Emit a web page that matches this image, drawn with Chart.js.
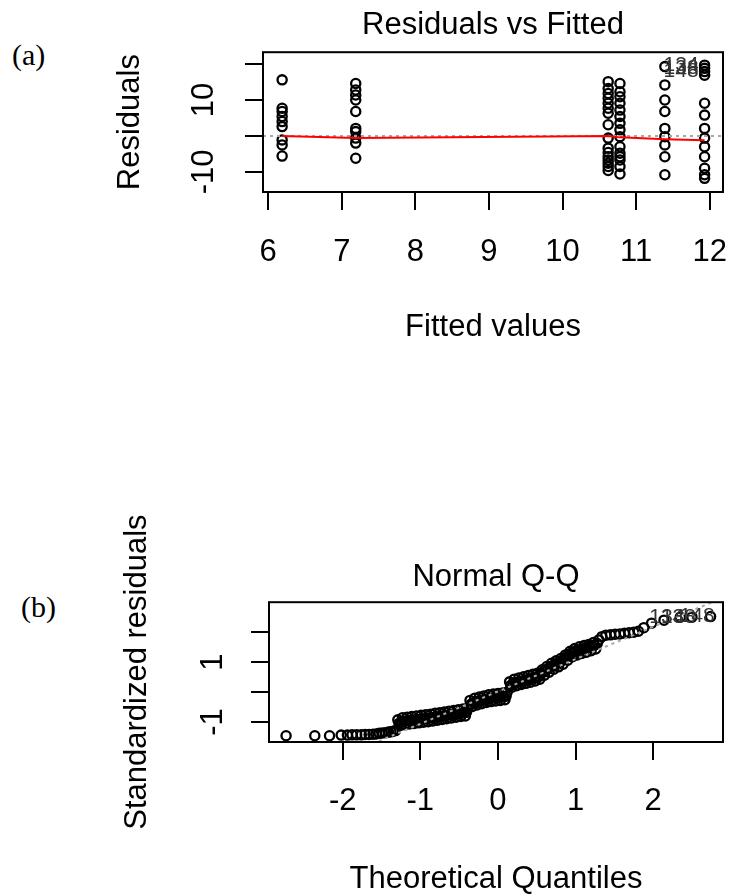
<!DOCTYPE html>
<html>
<head>
<meta charset="utf-8">
<script src="https://cdn.jsdelivr.net/npm/chart.js@4.4.0/dist/chart.umd.min.js"></script>
<style>
  body { margin: 0; background: #fff; width: 731px; height: 895px; position: relative; overflow: hidden; }
  canvas { position: absolute; left: 0; }
  .panel { position: absolute; font-family: "Liberation Serif", serif; font-size: 30px; line-height: 1; color: #000; }
</style>
</head>
<body>
<div class="panel" style="left:12px;top:40px">(a)</div>
<canvas id="resFit" width="731" height="370" style="top:0"></canvas>
<div class="panel" style="left:21px;top:592px">(b)</div>
<canvas id="qq" width="731" height="455" style="top:440px"></canvas>
<script>
// (a) residuals vs fitted, one array of residuals per fitted level
const fittedLevels = [6.19, 7.19, 10.62, 10.78, 11.39, 11.93];
const res619 = [15.6, 7.7, 6.8, 5.4, 4.0, 2.6, -1.1, -2.5, -5.6];
const res719 = [14.6, 12.8, 11.4, 10.0, 6.8, 2.1, 1.2, -0.6, -2.0, -6.2];
const res1062 = [15.1, 13.2, 11.8, 10.5, 9.1, 7.7, 6.3, 3.1, -0.6, -3.4, -4.6, -5.8, -6.7, -7.6, -8.5, -9.6];
const res1078 = [14.6, 12.3, 10.9, 9.1, 7.2, 5.4, 3.5, 1.7, -0.2, -3.0, -4.8, -5.8, -6.7, -8.5, -10.6];
const res1139 = [19.3, 14.2, 10.0, 6.8, 2.1, -0.2, -2.5, -5.8, -10.8];
const res1193 = [19.7, 18.8, 17.9, 16.9, 9.1, 5.8, 2.1, -0.6, -3.0, -5.8, -9.0, -10.8, -11.8];
const smoothX = [6.19, 7.19, 10.62, 10.78, 11.39, 11.93];
const smoothY = [0.0, -0.6, 0.0, -0.4, -0.9, -1.2];
const fitTicks = [6, 7, 8, 9, 10, 11, 12];
const resTicks = [-10, 0, 10, 20];
const resTickLabels = [-10, 10];
const resIds = ['134', '138', '148'];
const resIdX = [11.93, 11.93, 11.93];
const resIdY = [19.7, 18.8, 17.9];

// (b) normal Q-Q
const qqX = [-2.73, -2.36, -2.17, -2.02, -1.94, -1.88, -1.82, -1.76, -1.71, -1.66, -1.61, -1.57, -1.53, -1.49, -1.45, -1.41, -1.38, -1.35, -1.32,
  -1.29, -1.26, -1.23, -1.20, -1.17, -1.14, -1.11, -1.08, -1.05, -1.02, -0.99, -0.96, -0.93, -0.90, -0.87, -0.84, -0.81, -0.78, -0.75, -0.72, -0.69, -0.66, -0.63, -0.60, -0.57, -0.54, -0.51, -0.48, -0.45, -0.42, -0.39,
  -0.36, -0.33, -0.30, -0.27, -0.24, -0.21, -0.18, -0.15, -0.12, -0.09, -0.06, -0.03, 0.00, 0.03, 0.06, 0.09, 0.12,
  0.15, 0.18, 0.21, 0.24, 0.27, 0.30, 0.33, 0.36, 0.39, 0.42, 0.45, 0.48, 0.51, 0.54,
  0.57, 0.60, 0.63, 0.66, 0.69, 0.72, 0.75, 0.78, 0.81, 0.84, 0.87, 0.90, 0.93, 0.96, 0.99, 1.02, 1.05, 1.08, 1.11, 1.14, 1.17, 1.20, 1.23, 1.26, 1.30,
  1.34, 1.39, 1.45, 1.51, 1.57, 1.63, 1.69, 1.75, 1.81, 1.88, 1.98, 2.14, 2.35, 2.50, 2.74];
const qqY = [-1.46, -1.46, -1.46, -1.44, -1.44, -1.43, -1.43, -1.43, -1.42, -1.42, -1.41, -1.40, -1.38, -1.37, -1.36, -1.34, -1.33, -1.31, -1.29,
  -0.93, -1.12, -0.86, -1.09, -0.84, -1.07, -0.82, -1.05, -0.80, -1.03, -0.78, -1.01, -0.76, -0.99, -0.74, -0.97, -0.71, -0.94, -0.69, -0.92, -0.67, -0.89, -0.64, -0.87, -0.62, -0.84, -0.59, -0.82, -0.57, -0.80, -0.54,
  -0.28, -0.48, -0.21, -0.43, -0.17, -0.39, -0.13, -0.35, -0.09, -0.32, -0.07, -0.30, -0.05, -0.28, -0.03, -0.26, 0.00,
  0.34, 0.16, 0.43, 0.21, 0.47, 0.25, 0.51, 0.29, 0.55, 0.33, 0.59, 0.37, 0.63, 0.43,
  0.74, 0.56, 0.85, 0.66, 0.96, 0.76, 1.04, 0.84, 1.12, 0.93, 1.24, 1.06, 1.36, 1.18, 1.45, 1.24, 1.51, 1.29, 1.55, 1.33, 1.59, 1.38, 1.65, 1.44, 1.74,
  1.85, 1.90, 1.91, 1.93, 1.94, 1.96, 1.98, 2.00, 2.03, 2.15, 2.30, 2.40, 2.50, 2.50, 2.52];
// points in the dense middle band, between the ones above
const qqMidX = [-1.275, -1.245, -1.215, -1.185, -1.155, -1.125, -1.095, -1.065, -1.035, -1.005, -0.975, -0.945, -0.915, -0.885, -0.855, -0.825, -0.795, -0.765, -0.735, -0.705, -0.675, -0.645, -0.615, -0.585, -0.555, -0.525, -0.495, -0.465, -0.435, -0.405,
  -0.345, -0.315, -0.285, -0.255, -0.225, -0.195, -0.165, -0.135, -0.105, -0.075, -0.045, -0.015, 0.015, 0.045, 0.075, 0.105,
  0.165, 0.195, 0.225, 0.255, 0.285, 0.315, 0.345, 0.375, 0.405, 0.435, 0.465, 0.495, 0.525,
  0.555, 0.585, 0.615, 0.645, 0.675, 0.705, 0.735, 0.765, 0.795, 0.825, 0.855, 0.885, 0.915, 0.945, 0.975, 1.005, 1.035, 1.065, 1.095, 1.125, 1.155, 1.185, 1.215, 1.245, 1.28];
const qqMidY = [-1.05, -1.00, -0.98, -0.97, -0.96, -0.95, -0.94, -0.93, -0.92, -0.91, -0.90, -0.89, -0.88, -0.87, -0.86, -0.85, -0.83, -0.82, -0.81, -0.80, -0.79, -0.77, -0.76, -0.75, -0.74, -0.72, -0.71, -0.70, -0.69, -0.68,
  -0.40, -0.36, -0.33, -0.31, -0.29, -0.27, -0.25, -0.23, -0.21, -0.20, -0.19, -0.18, -0.17, -0.16, -0.15, -0.14,
  0.22, 0.28, 0.31, 0.33, 0.35, 0.37, 0.39, 0.41, 0.43, 0.45, 0.47, 0.49, 0.51,
  0.62, 0.68, 0.73, 0.78, 0.84, 0.88, 0.92, 0.96, 1.00, 1.05, 1.12, 1.18, 1.24, 1.30, 1.33, 1.36, 1.39, 1.41, 1.43, 1.45, 1.47, 1.50, 1.53, 1.56, 1.62];
const qqLineX = [-2.95, 2.9];
const qqLineY = [-3.17, 3.15];
const qqXTicks = [-2, -1, 0, 1, 2];
const qqYTicks = [-1, 0, 1, 2];
const qqYTickLabels = [-1, 1];
const qqIds = ['134', '138', '148'];
const qqIdX = [2.35, 2.5, 2.74];
const qqIdY = [2.5, 2.5, 2.52];

Chart.defaults.font.family = 'Liberation Sans';
Chart.defaults.color = '#000';

const FONT = { family: 'Liberation Sans', size: 31 };

// box, rotated y tick labels and point ids, the way R draws them
const rPlot = {
  id: 'rPlot',
  afterDatasetsDraw(chart, args, opts) {
    const { ctx, chartArea: a, scales: { x, y } } = chart;
    ctx.save();
    ctx.strokeStyle = '#000';
    ctx.lineWidth = 2;
    ctx.strokeRect(a.left, a.top, a.right - a.left, a.bottom - a.top);
    ctx.fillStyle = '#000';
    ctx.font = '31px "Liberation Sans"';
    ctx.textAlign = 'center';
    ctx.textBaseline = 'middle';
    opts.yLabels.forEach(v => {
      ctx.save();
      ctx.translate(opts.yLabelX, y.getPixelForValue(v));
      ctx.rotate(-Math.PI / 2);
      ctx.fillText(String(v), 0, 0);
      ctx.restore();
    });
    ctx.font = '21px "Liberation Sans"';
    ctx.fillStyle = '#333';
    ctx.textAlign = 'right';
    opts.ids.forEach((id, i) => {
      ctx.fillText(id, x.getPixelForValue(opts.idX[i]) + opts.idOffset, y.getPixelForValue(opts.idY[i]));
    });
    ctx.restore();
  }
};

function xAxis(min, max, tickVals, title, height, pad) {
  return {
    type: 'linear', min: min, max: max,
    afterBuildTicks: s => { s.ticks = tickVals.map(v => ({ value: v })); },
    afterFit: s => { s.height = height; s.paddingLeft = 0; s.paddingRight = 0; },
    grid: { drawOnChartArea: false, drawTicks: true, tickLength: 18, color: '#000', lineWidth: 2 },
    border: { display: false },
    ticks: { color: '#000', font: FONT, padding: pad, maxRotation: 0, autoSkip: false },
    title: { display: true, text: title, color: '#000', font: { ...FONT, lineHeight: 1 }, padding: 0 }
  };
}

function yAxis(min, max, tickVals, title, width) {
  return {
    type: 'linear', min: min, max: max,
    afterBuildTicks: s => { s.ticks = tickVals.map(v => ({ value: v })); },
    afterFit: s => { s.width = width; s.paddingTop = 0; s.paddingBottom = 0; },
    grid: { drawOnChartArea: false, drawTicks: true, tickLength: 18, color: '#000', lineWidth: 2 },
    border: { display: false },
    ticks: { display: false },
    title: { display: true, text: title, color: '#000', font: { ...FONT, lineHeight: 1 }, padding: 0 }
  };
}

const pointStyle = {
  type: 'scatter', showLine: false, pointStyle: 'circle', pointRadius: 4.6,
  pointBorderWidth: 2.3, pointBorderColor: '#000', pointBackgroundColor: 'rgba(0,0,0,0)'
};

// render (a)
const resGroups = [res619, res719, res1062, res1078, res1139, res1193];
const resPoints = [];
resGroups.forEach((g, i) => g.forEach(r => resPoints.push({ x: fittedLevels[i], y: r })));

new Chart(document.getElementById('resFit'), {
  type: 'scatter',
  data: {
    datasets: [
      { ...pointStyle, data: resPoints, order: 3 },
      { type: 'line', data: [{ x: 5.93, y: 0 }, { x: 12.18, y: 0 }], borderColor: '#a8a8a8', borderWidth: 2, borderDash: [3, 4], pointRadius: 0, order: 2 },
      { type: 'line', data: smoothX.map((v, i) => ({ x: v, y: smoothY[i] })), borderColor: '#ff0000', borderWidth: 2, pointRadius: 0, tension: 0, order: 1 }
    ]
  },
  options: {
    responsive: false, animation: false, events: [],
    layout: { padding: { left: 115, right: 8, top: 0, bottom: 27 } },
    plugins: {
      legend: { display: false }, tooltip: { enabled: false },
      title: { display: true, text: 'Residuals vs Fitted', color: '#000', fullSize: false, font: { ...FONT, weight: 'normal', lineHeight: 1.2 }, padding: { top: 7, bottom: 8 } },
      rPlot: { yLabels: resTickLabels, yLabelX: 204, ids: resIds, idX: resIdX, idY: resIdY, idOffset: -6 }
    },
    scales: {
      x: xAxis(5.93, 12.18, fitTicks, 'Fitted values', 151, 24),
      y: yAxis(-15.6, 23.3, resTicks, 'Residuals', 148)
    }
  },
  plugins: [rPlot]
});

// render (b)
const qqPoints = qqX.map((v, i) => ({ x: v, y: qqY[i] }))
  .concat(qqMidX.map((v, i) => ({ x: v, y: qqMidY[i] })));

new Chart(document.getElementById('qq'), {
  type: 'scatter',
  data: {
    datasets: [
      { type: 'line', data: qqLineX.map((v, i) => ({ x: v, y: qqLineY[i] })), borderColor: '#a8a8a8', borderWidth: 2, borderDash: [3, 4], pointRadius: 0, order: 1 },
      { ...pointStyle, data: qqPoints, order: 2 }
    ]
  },
  options: {
    responsive: false, animation: false, events: [],
    layout: { padding: { left: 122, right: 8, top: 0, bottom: 0 } },
    plugins: {
      legend: { display: false }, tooltip: { enabled: false },
      title: { display: true, text: 'Normal Q-Q', color: '#000', fullSize: false, font: { ...FONT, weight: 'normal', lineHeight: 1.2 }, padding: { top: 119, bottom: 6 } },
      rPlot: { yLabels: qqYTickLabels, yLabelX: 213, ids: qqIds, idX: qqIdX, idY: qqIdY, idOffset: 4 }
    },
    scales: {
      x: xAxis(-2.95, 2.9, qqXTicks, 'Theoretical Quantiles', 153, 23),
      y: yAxis(-1.67, 3.0, qqYTicks, 'Standardized residuals', 147)
    }
  },
  plugins: [rPlot]
});
</script>
</body>
</html>
